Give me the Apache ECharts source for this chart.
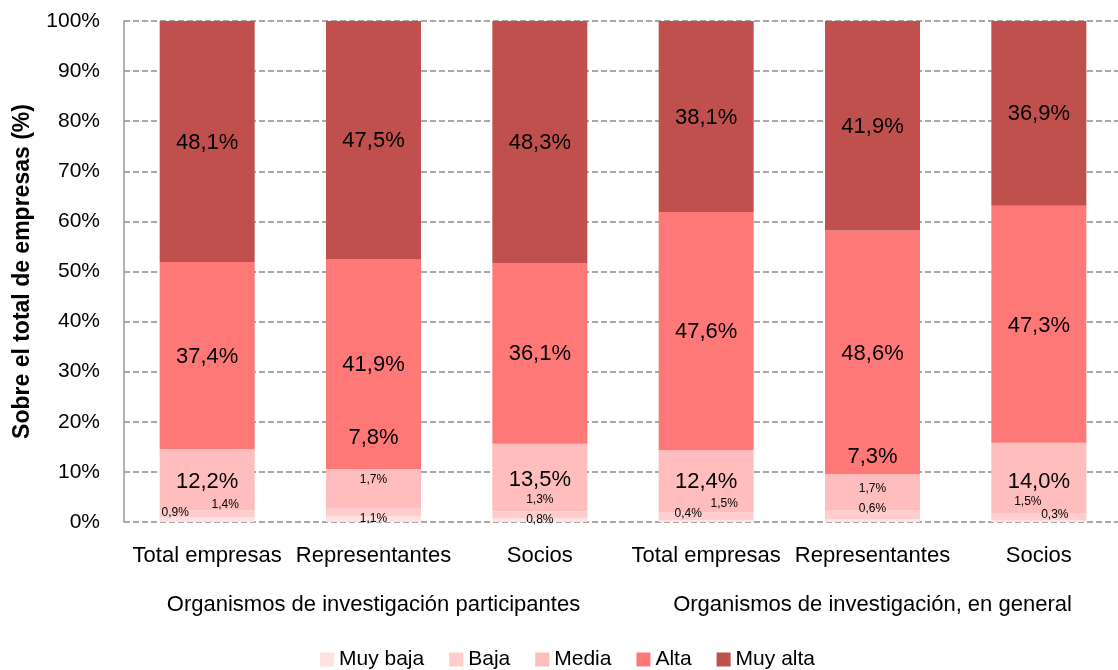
<!DOCTYPE html>
<html>
<head>
<meta charset="utf-8">
<script src="https://cdn.jsdelivr.net/npm/echarts@6/dist/echarts.min.js"></script>
<style>
  html, body { margin: 0; padding: 0; background: #fff; }
  #chart { width: 1118px; height: 670px; }
</style>
</head>
<body>
<div id="chart"></div>
<script>
// categories
var categories = ['Total empresas', 'Representantes', 'Socios', 'Total empresas', 'Representantes', 'Socios']
var groups = ['Organismos de investigación participantes', 'Organismos de investigación, en general']
var levels = ['Muy baja', 'Baja', 'Media', 'Alta', 'Muy alta']
var yTicks = [0, 10, 20, 30, 40, 50, 60, 70, 80, 90, 100]

// % of companies per level
var muyBaja = [0.9, 1.1, 0.8, 0.4, 0.6, 0.3]
var baja = [1.4, 1.7, 1.3, 1.5, 1.7, 1.5]
var media = [12.2, 7.8, 13.5, 12.4, 7.3, 14.0]
var alta = [37.4, 41.9, 36.1, 47.6, 48.6, 47.3]
var muyAlta = [48.1, 47.5, 48.3, 38.1, 41.9, 36.9]

var colors = ['#FFE1E1', '#FFCDCD', '#FFBDBD', '#FF7878', '#C0504D']
var FONT = '"Liberation Sans", Arial, sans-serif'

// label nudges copied from the original (labels were moved by hand there)
var nudge = {
  'Muy baja': [[-32, -7], [0, -1], [0, 0], [-18, -7], [0, -12], [16, -7]],
  'Baja': [[18, -9], [0, -33], [0, -15], [18, -13], [0, -26], [-11, -15]],
  'Media': [[0, 2], [0, -50], [0, 2], [0, 1], [0, -35], [0, 4]],
  'Alta': [[0, 1], [0, 1], [0, 1], [0, 1], [0, 2], [0, 2]],
  'Muy alta': [[0, 1], [0, 1], [0, 1], [0, 1], [0, 1], [0, 1]]
}
var labelSize = { 'Muy baja': 12, 'Baja': 12, 'Media': 22, 'Alta': 22, 'Muy alta': 22 }

function fmt(v) {
  return v.toFixed(1).replace('.', ',') + '%'
}

var values = [muyBaja, baja, media, alta, muyAlta]

var chart = echarts.init(document.getElementById('chart'))
chart.setOption({
  animation: false,
  color: colors,
  grid: { left: 124, top: 21, width: 998, height: 501, outerBoundsMode: 'none', containLabel: false },
  legend: {
    data: levels,
    left: 315,
    top: 644,
    icon: 'rect',
    itemWidth: 14,
    itemHeight: 14,
    itemGap: 25,
    textStyle: { fontFamily: FONT, fontSize: 21, color: '#000' }
  },
  xAxis: [
    {
      type: 'category',
      data: categories,
      axisLine: { show: false },
      axisTick: { show: false },
      axisLabel: { fontFamily: FONT, fontSize: 22, color: '#000', margin: 23, interval: 0 }
    },
    {
      type: 'category',
      data: groups,
      position: 'bottom',
      axisLine: { show: false },
      axisTick: { show: false },
      axisLabel: { fontFamily: FONT, fontSize: 22, color: '#000', margin: 72, interval: 0 }
    }
  ],
  yAxis: {
    type: 'value',
    min: yTicks[0],
    max: yTicks[yTicks.length - 1],
    interval: 10,
    name: 'Sobre el total de empresas (%)',
    nameLocation: 'middle',
    nameGap: 90,
    nameTextStyle: { fontFamily: FONT, fontSize: 23, fontWeight: 'bold', color: '#000' },
    axisLine: { show: true, lineStyle: { color: '#999', width: 1.5 } },
    axisTick: { show: false },
    axisLabel: { fontFamily: FONT, fontSize: 21, color: '#000', margin: 24, formatter: '{value}%' },
    splitLine: { lineStyle: { color: '#8c8c8c', width: 1.5, type: [6, 3] } }
  },
  series: levels.map(function (name, i) {
    return {
      name: name,
      type: 'bar',
      stack: 'total',
      barWidth: 95,
      data: values[i].map(function (v, j) {
        return {
          value: v,
          label: { offset: nudge[name][j] }
        }
      }),
      itemStyle: { color: colors[i] },
      label: {
        show: true,
        position: 'inside',
        fontFamily: FONT,
        fontSize: labelSize[name],
        color: '#000',
        formatter: function (p) { return fmt(p.value) }
      }
    }
  })
})
</script>
</body>
</html>
